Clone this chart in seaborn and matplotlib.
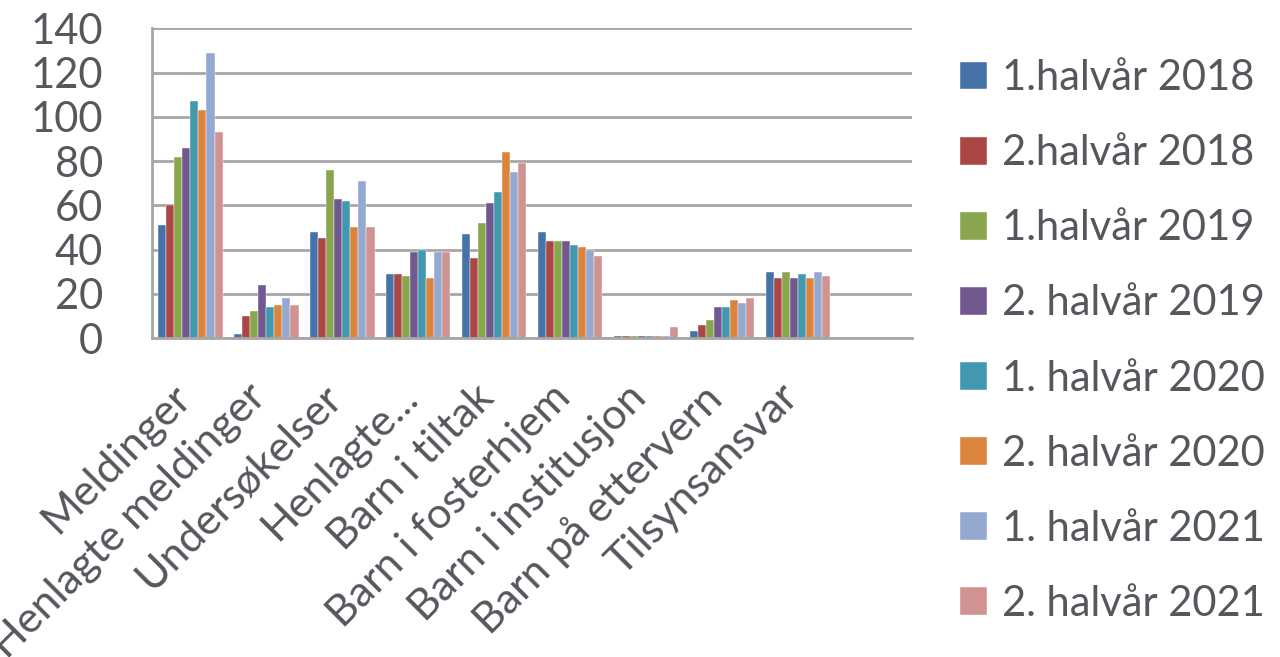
import pandas as pd
import matplotlib.pyplot as plt
import matplotlib.transforms as mtransforms
import seaborn as sns
import numpy as np

# ==========================
# Data
# ==========================
kategorier = ["Meldinger", "Henlagte meldinger", "Undersøkelser", "Henlagte...",
              "Barn i tiltak", "Barn i fosterhjem", "Barn i institusjon",
              "Barn på ettervern", "Tilsynsansvar", ""]

perioder = ["1.halvår 2018", "2.halvår 2018", "1.halvår 2019", "2. halvår 2019",
            "1. halvår 2020", "2. halvår 2020", "1. halvår 2021", "2. halvår 2021"]

h1_2018 = [51, 2, 48, 29, 47, 48, 1, 3, 30]
h2_2018 = [60, 10, 45, 29, 36, 44, 1, 6, 27]
h1_2019 = [82, 12, 76, 28, 52, 44, 1, 8, 30]
h2_2019 = [86, 24, 63, 39, 61, 44, 1, 14, 27]
h1_2020 = [107, 14, 62, 40, 66, 42, 1, 14, 29]
h2_2020 = [103, 15, 50, 27, 84, 41, 1, 17, 27]
h1_2021 = [129, 18, 71, 39, 75, 40, 1, 16, 30]
h2_2021 = [93, 15, 50, 39, 79, 37, 5, 18, 28]

serier = [h1_2018, h2_2018, h1_2019, h2_2019, h1_2020, h2_2020, h1_2021, h2_2021]
farger = ["#4572A7", "#AA4643", "#89A54E", "#71588F",
          "#4198AF", "#DB843D", "#93A9CF", "#D19392"]

rows = []
for periode, verdier in zip(perioder, serier):
    for kat, v in zip(kategorier[:-1], verdier):
        rows.append({"kategori": kat, "periode": periode, "antall": v})
df = pd.DataFrame(rows)

# ==========================
# Plot
# ==========================
sns.set_style("white")
plt.rcParams["font.family"] = ["Lato", "DejaVu Sans"]
tekst = "#54575c"
grid = "#A6A6A6"

fig = plt.figure(figsize=(12.8, 6.57), dpi=100)
ax = fig.add_axes([0.119, 0.4855, 0.5935, 0.4715])

sns.barplot(data=df, x="kategori", y="antall", hue="periode", order=kategorier,
            hue_order=perioder, palette=farger, saturation=1, width=0.85, ax=ax,
            edgecolor="white", linewidth=0.3, errorbar=None)

ax.set_xlim(-0.5, len(kategorier) - 0.5)
ax.set_ylim(0, 140)
ax.set_yticks(np.arange(0, 141, 20))
ax.yaxis.grid(True, color=grid, linewidth=2)
ax.set_axisbelow(True)
ax.set_xlabel("")
ax.set_ylabel("")

for s in ["top", "right"]:
    ax.spines[s].set_visible(False)
for s in ["left", "bottom"]:
    ax.spines[s].set_color(grid)
    ax.spines[s].set_linewidth(2)

ax.set_xticks(np.arange(len(kategorier)))
ax.set_xticklabels(kategorier, rotation=45, ha="right", rotation_mode="anchor",
                   fontsize=31, color=tekst)
ax.tick_params(axis="x", which="major", length=0, pad=22)
# flytt etikettene litt ned til venstre
offset = mtransforms.ScaledTranslation(-20 / 100, -9 / 100, fig.dpi_scale_trans)
for lbl in ax.get_xticklabels():
    lbl.set_transform(lbl.get_transform() + offset)
ax.set_xticks(np.arange(-0.5, len(kategorier), 1), minor=True)
ax.tick_params(axis="x", which="minor", length=10, width=2, color=grid, direction="out")
ax.tick_params(axis="y", length=11.5, width=2, color=grid, labelsize=30,
               labelcolor=tekst, pad=24, direction="out")

handles, labels = ax.get_legend_handles_labels()
ax.get_legend().remove()
fig.legend(handles, labels, loc="center left", bbox_to_anchor=(0.75, 0.481),
           frameon=False, fontsize=30, labelcolor=tekst, handlelength=0.65,
           handleheight=0.65, handletextpad=0.36, labelspacing=0.89,
           borderpad=0, borderaxespad=0)

plt.savefig("out.png", dpi=100)
plt.close()
